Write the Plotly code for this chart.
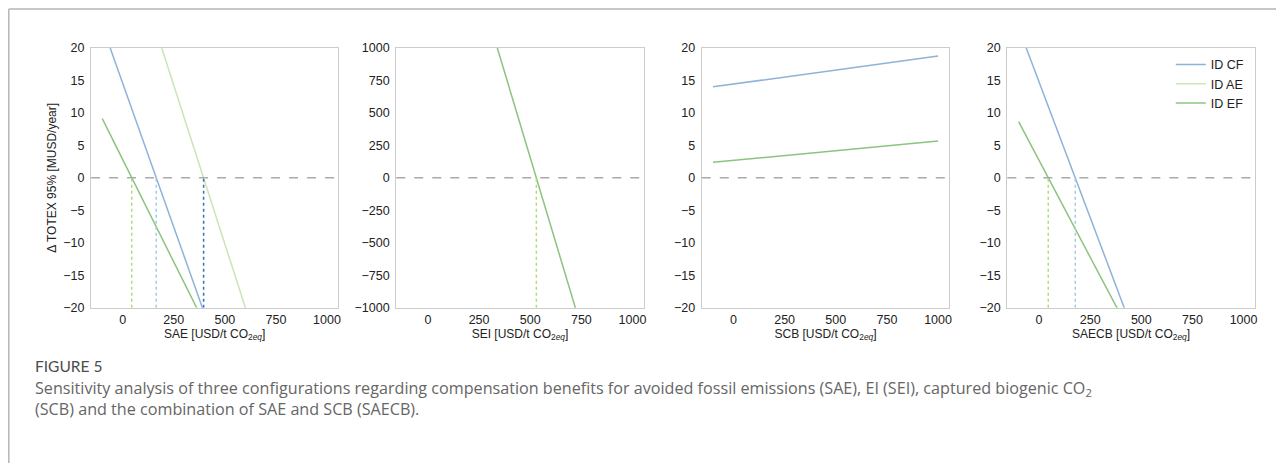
import plotly.graph_objects as go

# renderer mapping (measured): image = scale * page, with a fixed top offset
SX, SY, TOP = 0.997, 0.967, 7.5
W, H = 1279, 471

# ---- data ----
x_ends = [-100, 1000]

# Panel 1: SAE
sae_cf = [23.4, -74.0]
sae_ae = [48.4, -59.0]
sae_ef = [9.1, -60.2]
sae_zero_ef = 44
sae_zero_cf = 164
sae_zero_ae = 396

# Panel 2: SEI
sei_ef = [3300, -2463]
sei_zero_ef = 530

# Panel 3: SCB
scb_cf = [14.0, 18.75]
scb_ef = [2.4, 5.65]

# Panel 4: SAECB
saecb_cf = [23.1, -68.7]
saecb_ef = [8.64, -56.9]
saecb_zero_ef = 45
saecb_zero_cf = 177

x_ticks = [0, 250, 500, 750, 1000]
y_ticks_small = [-20, -15, -10, -5, 0, 5, 10, 15, 20]
y_ticks_big = [-1000, -750, -500, -250, 0, 250, 500, 750, 1000]

x_titles = ["SAE", "SEI", "SCB", "SAECB"]
series_names = ["ID CF", "ID AE", "ID EF"]

C_CF = "#8fb3d8"
C_AE = "#c9e6b6"
C_EF = "#8cc47f"
D_EF = "#b3d978"
D_CF = "#a3cbe6"
D_AE = "#2f74b5"

FONT = "Liberation Sans, Arial, sans-serif"
TF = dict(size=12.5, color="#222222")

fig = go.Figure()

def px_x(p):
    return (p / SX) / W

def px_y(p):
    return 1 - (p / SY - TOP) / H

domains = [(91, 338), (396, 643.3), (701.3, 948.7), (1006.7, 1254)]

def line(ax, xs, ys, color, name=None, show=False, dash=None, width=1.5):
    fig.add_trace(go.Scatter(
        x=xs, y=ys, mode="lines", name=name, showlegend=show,
        line=dict(color=color, width=width, dash=dash),
        xaxis="x" + ("" if ax == 1 else str(ax)),
        yaxis="y" + ("" if ax == 1 else str(ax)),
        hoverinfo="skip",
    ))

# Panel 1
line(1, x_ends, sae_cf, C_CF)
line(1, x_ends, sae_ae, C_AE)
line(1, x_ends, sae_ef, C_EF)
line(1, [sae_zero_ef, sae_zero_ef], [-20, 0], D_EF, dash="dot")
line(1, [sae_zero_cf, sae_zero_cf], [-20, 0], D_CF, dash="dot")
line(1, [sae_zero_ae, sae_zero_ae], [-20, 0], D_AE, dash="dot")

# Panel 2
line(2, x_ends, sei_ef, C_EF)
line(2, [sei_zero_ef, sei_zero_ef], [-1000, 0], D_EF, dash="dot")

# Panel 3
line(3, x_ends, scb_cf, C_CF)
line(3, x_ends, scb_ef, C_EF)

# Panel 4 (with legend)
line(4, x_ends, saecb_cf, C_CF, name=series_names[0], show=True)
line(4, [None, None], [None, None], C_AE, name=series_names[1], show=True)
line(4, x_ends, saecb_ef, C_EF, name=series_names[2], show=True)
line(4, [saecb_zero_ef, saecb_zero_ef], [-20, 0], D_EF, dash="dot")
line(4, [saecb_zero_cf, saecb_zero_cf], [-20, 0], D_CF, dash="dot")

ydom = [px_y(307), px_y(48)]
layout = dict(
    width=W, height=H,
    margin=dict(l=0, r=0, t=0, b=0),
    paper_bgcolor="white", plot_bgcolor="white",
    font=dict(family=FONT, size=12.5, color="#222222"),
    showlegend=True,
    legend=dict(x=px_x(1248), y=px_y(50), xanchor="right", yanchor="top",
                bgcolor="rgba(0,0,0,0)", font=dict(size=12.5, color="#222"),
                tracegroupgap=0, itemwidth=30),
)
shapes = []
for i, (a, b) in enumerate(domains, start=1):
    sx = "" if i == 1 else str(i)
    rng_y = [-1000, 1000] if i == 2 else [-20, 20]
    ticks_y = y_ticks_big if i == 2 else y_ticks_small
    layout["xaxis" + sx] = dict(
        domain=[px_x(a), px_x(b)], range=[-155, 1055], anchor="y" + sx,
        tickvals=x_ticks, showgrid=False, zeroline=False,
        showline=True, linecolor="#cccccc", linewidth=1.2, mirror=True,
        ticks="", tickfont=TF,
        title=dict(text=x_titles[i - 1] + " [USD/t CO<sub>2<i>eq</i></sub>]",
                   font=dict(size=12, color="#222"), standoff=0),
    )
    layout["yaxis" + sx] = dict(
        domain=ydom, range=rng_y, anchor="x" + sx,
        tickvals=ticks_y, showgrid=False, zeroline=False,
        showline=True, linecolor="#cccccc", linewidth=1.2, mirror=True,
        ticks="outside", ticklen=3, tickcolor="rgba(0,0,0,0)", tickfont=TF,
    )
    shapes.append(dict(type="line", xref="x" + sx + " domain", yref="y" + sx,
                       x0=0, x1=1, y0=0, y1=0,
                       line=dict(color="#aaaaaa", width=1.5, dash="dash")))
layout["yaxis"]["title"] = dict(text="Δ TOTEX 95% [MUSD/year]",
                                font=dict(size=12, color="#222"), standoff=4)

# outer frame (top and left edges visible)
shapes.append(dict(type="line", xref="paper", yref="paper",
                   x0=px_x(8.8), x1=1.0, y0=px_y(9.2), y1=px_y(9.2),
                   line=dict(color="#b5b5b5", width=1.5)))
shapes.append(dict(type="line", xref="paper", yref="paper",
                   x0=px_x(8.8), x1=px_x(8.8), y0=0, y1=px_y(9.2),
                   line=dict(color="#b5b5b5", width=1.5)))
layout["shapes"] = shapes

CAP = "Open Sans, Lato, sans-serif"
layout["annotations"] = [
    dict(text="FIGURE 5", xref="paper", yref="paper", x=px_x(33), y=px_y(365),
         xanchor="left", yanchor="middle", showarrow=False,
         font=dict(family="Lato, sans-serif", size=15.5, color="#4d4d4d")),
    dict(text="Sensitivity analysis of three configurations regarding compensation benefits for avoided fossil emissions (SAE), EI (SEI), captured biogenic CO<sub>2</sub>"
              "<br>(SCB) and the combination of SAE and SCB (SAECB).",
         xref="paper", yref="paper", x=px_x(33), y=px_y(397),
         xanchor="left", yanchor="middle", align="left", showarrow=False,
         font=dict(family=CAP, size=16.15, color="#666666")),
]

fig.update_layout(**layout)
fig.write_html("out.html", config={"displayModeBar": False},
               post_script="document.body.style.margin='0px';")
